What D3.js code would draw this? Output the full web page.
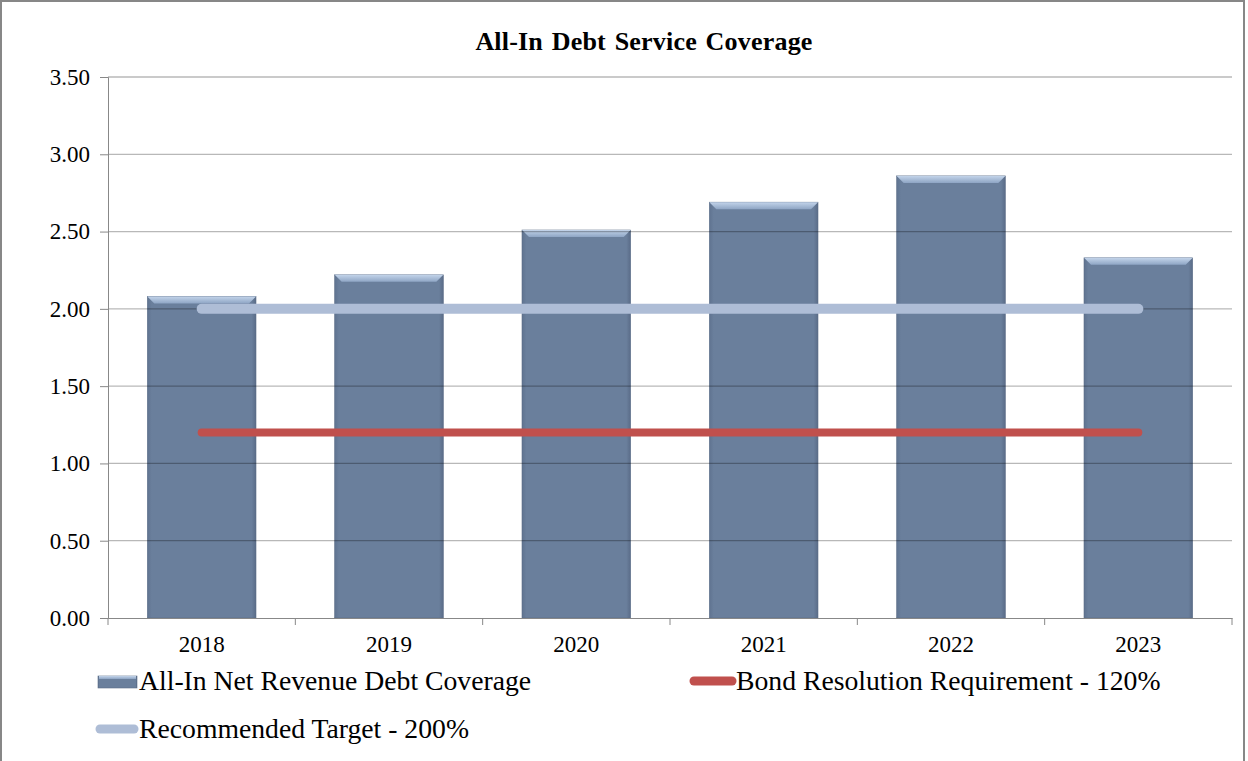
<!DOCTYPE html>
<html>
<head>
<meta charset="utf-8">
<script src="https://cdn.jsdelivr.net/npm/d3@7"></script>
<style>
  html, body { margin: 0; padding: 0; background: #fff; }
  svg { display: block; }
  svg text { font-family: "Liberation Serif", "Times New Roman", serif; fill: #000; }
</style>
</head>
<body>
<div id="chart"></div>
<script>
const years = ["2018", "2019", "2020", "2021", "2022", "2023"];
const coverage = [2.08, 2.22, 2.51, 2.69, 2.86, 2.33];
const bondRequirement = [1.2, 1.2, 1.2, 1.2, 1.2, 1.2];
const recommendedTarget = [2.0, 2.0, 2.0, 2.0, 2.0, 2.0];
const yTicks = [0, 0.5, 1, 1.5, 2, 2.5, 3, 3.5];

const width = 1248, height = 761;
const margin = { top: 77, right: 16, bottom: 143, left: 108 };
const plotW = width - margin.left - margin.right;
const plotH = height - margin.top - margin.bottom;
const serif = "Liberation Serif";

const svg = d3.select("#chart").append("svg")
  .attr("width", width)
  .attr("height", height);

// outer frame
svg.append("rect")
  .attr("x", 1).attr("y", 1)
  .attr("width", width - 5).attr("height", height + 10)
  .attr("fill", "none")
  .attr("stroke", "#878787")
  .attr("stroke-width", 2);

const defs = svg.append("defs");
const bevel = defs.append("linearGradient").attr("id", "bevel")
  .attr("x1", 0).attr("y1", 0).attr("x2", 0).attr("y2", 1);
bevel.append("stop").attr("offset", "0%").attr("stop-color", "#c3d4ea");
bevel.append("stop").attr("offset", "100%").attr("stop-color", "#8ea5c4");

const side = defs.append("linearGradient").attr("id", "side")
  .attr("x1", 0).attr("y1", 0).attr("x2", 1).attr("y2", 0);
side.append("stop").attr("offset", "0%").attr("stop-color", "#5f7390");
side.append("stop").attr("offset", "4%").attr("stop-color", "#6a7f9c");
side.append("stop").attr("offset", "96%").attr("stop-color", "#6a7f9c");
side.append("stop").attr("offset", "100%").attr("stop-color", "#5a6c88");

svg.append("text")
  .attr("x", 644).attr("y", 50)
  .attr("text-anchor", "middle")
  .attr("font-family", serif)
  .attr("font-size", 26)
  .attr("font-weight", "bold")
  .attr("letter-spacing", 0.2)
  .attr("word-spacing", 2)
  .text("All-In Debt Service Coverage");

const g = svg.append("g")
  .attr("transform", `translate(${margin.left},${margin.top})`);

const x = d3.scaleBand()
  .domain(years)
  .range([0, plotW])
  .paddingInner(0.42)
  .paddingOuter(0.21);

const xPoint = d3.scalePoint()
  .domain(years)
  .range([x.step() / 2, plotW - x.step() / 2]);

const y = d3.scaleLinear()
  .domain([0, 3.5])
  .range([plotH, 0]);

// bars
const bars = g.append("g").selectAll("g")
  .data(years)
  .enter()
  .append("g");

bars.append("rect")
  .attr("x", d => x(d))
  .attr("y", (d, i) => y(coverage[i]))
  .attr("width", x.bandwidth())
  .attr("height", (d, i) => plotH - y(coverage[i]))
  .attr("fill", "url(#side)")
  .attr("stroke", "#5b6d87")
  .attr("stroke-width", 0.6);

bars.append("polygon")
  .attr("points", (d, i) => {
    const x0 = x(d), x1 = x(d) + x.bandwidth(), t = y(coverage[i]), b = 7;
    return `${x0},${t} ${x1},${t} ${x1 - b},${t + b} ${x0 + b},${t + b}`;
  })
  .attr("fill", "url(#bevel)");

// gridlines (seen through the bars)
g.append("g").selectAll("line")
  .data(yTicks.filter(v => v > 0))
  .enter()
  .append("line")
  .attr("x1", 0).attr("x2", plotW)
  .attr("y1", d => y(d)).attr("y2", d => y(d))
  .attr("stroke", "#000")
  .attr("stroke-opacity", 0.28)
  .attr("stroke-width", 1.3);

// y axis
const yAxis = g.append("g")
  .call(d3.axisLeft(y).tickValues(yTicks).tickFormat(d3.format(".2f")).tickSize(8).tickPadding(10));
yAxis.select(".domain").attr("stroke", "#888");
yAxis.selectAll(".tick line").attr("stroke", "#888");
yAxis.selectAll(".tick text").attr("font-size", 23).attr("font-family", serif).attr("fill", "#000");

// x axis
const xAxis = g.append("g")
  .attr("transform", `translate(0,${plotH})`)
  .call(d3.axisBottom(x).tickSize(0).tickPadding(18));
xAxis.select(".domain").attr("stroke", "#888");
xAxis.selectAll(".tick text").attr("font-size", 23).attr("font-family", serif).attr("fill", "#000");
xAxis.selectAll(".sep")
  .data(d3.range(years.length + 1))
  .enter()
  .append("line")
  .attr("x1", i => i * x.step()).attr("x2", i => i * x.step())
  .attr("y1", 0).attr("y2", 7)
  .attr("stroke", "#888");

// horizontal reference lines
const line = d3.line()
  .x((d, i) => xPoint(years[i]))
  .y(d => y(d));

g.append("path")
  .datum(recommendedTarget)
  .attr("d", line)
  .attr("fill", "none")
  .attr("stroke", "#aebdd6")
  .attr("stroke-width", 10)
  .attr("stroke-linecap", "round");

g.append("path")
  .datum(bondRequirement)
  .attr("d", line)
  .attr("fill", "none")
  .attr("stroke", "#c0504d")
  .attr("stroke-width", 8)
  .attr("stroke-linecap", "round");

// legend
const legend = svg.append("g");

legend.append("rect")
  .attr("x", 98).attr("y", 676).attr("width", 39).attr("height", 12)
  .attr("fill", "url(#side)").attr("stroke", "#5b6d87").attr("stroke-width", 0.6);
legend.append("rect")
  .attr("x", 99).attr("y", 676).attr("width", 37).attr("height", 3)
  .attr("fill", "url(#bevel)");
legend.append("text")
  .attr("x", 139).attr("y", 690)
  .attr("font-family", serif)
  .attr("font-size", 27.7)
  .text("All-In Net Revenue Debt Coverage");

legend.append("line")
  .attr("x1", 694).attr("x2", 732).attr("y1", 681).attr("y2", 681)
  .attr("stroke", "#c0504d").attr("stroke-width", 9).attr("stroke-linecap", "round");
legend.append("text")
  .attr("x", 736).attr("y", 690)
  .attr("font-family", serif)
  .attr("font-size", 27.7)
  .text("Bond Resolution Requirement - 120%");

legend.append("line")
  .attr("x1", 100).attr("x2", 134).attr("y1", 729).attr("y2", 729)
  .attr("stroke", "#aebdd6").attr("stroke-width", 9).attr("stroke-linecap", "round");
legend.append("text")
  .attr("x", 139).attr("y", 738)
  .attr("font-family", serif)
  .attr("font-size", 27.7)
  .text("Recommended Target - 200%");
</script>
</body>
</html>
